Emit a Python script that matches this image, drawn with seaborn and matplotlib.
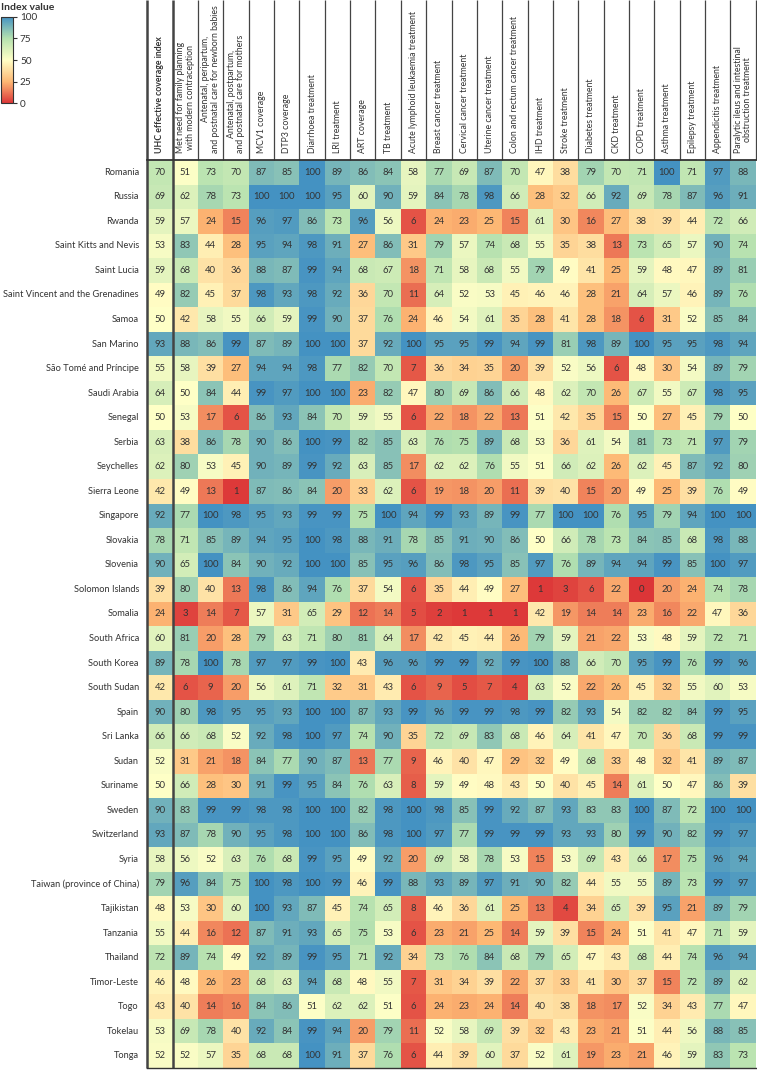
import numpy as np
import pandas as pd
import matplotlib
matplotlib.use("Agg")
import matplotlib.pyplot as plt
import seaborn as sns
from matplotlib.colors import LinearSegmentedColormap, Normalize, to_rgb
from matplotlib.cm import ScalarMappable

plt.rcParams['font.family'] = ['Lato', 'DejaVu Sans']

countries = [
    "Romania", "Russia", "Rwanda", "Saint Kitts and Nevis", "Saint Lucia",
    "Saint Vincent and the Grenadines", "Samoa", "San Marino",
    "São Tomé and Príncipe", "Saudi Arabia", "Senegal", "Serbia", "Seychelles",
    "Sierra Leone", "Singapore", "Slovakia", "Slovenia", "Solomon Islands",
    "Somalia", "South Africa", "South Korea", "South Sudan", "Spain",
    "Sri Lanka", "Sudan", "Suriname", "Sweden", "Switzerland", "Syria",
    "Taiwan (province of China)", "Tajikistan", "Tanzania", "Thailand",
    "Timor-Leste", "Togo", "Tokelau", "Tonga",
]

indicators = [
    "UHC effective coverage index",
    "Met need for family planning\nwith modern contraception",
    "Antenatal, peripartum,\nand postnatal care for newborn babies",
    "Antenatal, postpartum,\nand postnatal care for mothers",
    "MCV1 coverage",
    "DTP3 coverage",
    "Diarrhoea treatment",
    "LRI treatment",
    "ART coverage",
    "TB treatment",
    "Acute lymphoid leukaemia treatment",
    "Breast cancer treatment",
    "Cervical cancer treatment",
    "Uterine cancer treatment",
    "Colon and rectum cancer treatment",
    "IHD treatment",
    "Stroke treatment",
    "Diabetes treatment",
    "CKD treatment",
    "COPD treatment",
    "Asthma treatment",
    "Epilepsy treatment",
    "Appendicitis treatment",
    "Paralytic ileus and intestinal\nobstruction treatment",
]

values = [
    [70, 51, 73, 70, 87, 85, 100, 89, 86, 84, 58, 77, 69, 87, 70, 47, 38, 79, 70, 71, 100, 71, 97, 88],
    [69, 62, 78, 73, 100, 100, 100, 95, 60, 90, 59, 84, 78, 98, 66, 28, 32, 66, 92, 69, 78, 87, 96, 91],
    [59, 57, 24, 15, 96, 97, 86, 73, 96, 56, 6, 24, 23, 25, 15, 61, 30, 16, 27, 38, 39, 44, 72, 66],
    [53, 83, 44, 28, 95, 94, 98, 91, 27, 86, 31, 79, 57, 74, 68, 55, 35, 38, 13, 73, 65, 57, 90, 74],
    [59, 68, 40, 36, 88, 87, 99, 94, 68, 67, 18, 71, 58, 68, 55, 79, 49, 41, 25, 59, 48, 47, 89, 81],
    [49, 82, 45, 37, 98, 93, 98, 92, 36, 70, 11, 64, 52, 53, 45, 46, 46, 28, 21, 64, 57, 46, 89, 76],
    [50, 42, 58, 55, 66, 59, 99, 90, 37, 76, 24, 46, 54, 61, 35, 28, 41, 28, 18, 6, 31, 52, 85, 84],
    [93, 88, 86, 99, 87, 89, 100, 100, 37, 92, 100, 95, 95, 99, 94, 99, 81, 98, 89, 100, 95, 95, 98, 94],
    [55, 58, 39, 27, 94, 94, 98, 77, 82, 70, 7, 36, 34, 35, 20, 39, 52, 56, 6, 48, 30, 54, 89, 79],
    [64, 50, 84, 44, 99, 97, 100, 100, 23, 82, 47, 80, 69, 86, 66, 48, 62, 70, 26, 67, 55, 67, 98, 95],
    [50, 53, 17, 6, 86, 93, 84, 70, 59, 55, 6, 22, 18, 22, 13, 51, 42, 35, 15, 50, 27, 45, 79, 50],
    [63, 38, 86, 78, 90, 86, 100, 99, 82, 85, 63, 76, 75, 89, 68, 53, 36, 61, 54, 81, 73, 71, 97, 79],
    [62, 80, 53, 45, 90, 89, 99, 92, 63, 85, 17, 62, 62, 76, 55, 51, 66, 62, 26, 62, 45, 87, 92, 80],
    [42, 49, 13, 1, 87, 86, 84, 20, 33, 62, 6, 19, 18, 20, 11, 39, 40, 15, 20, 49, 25, 39, 76, 49],
    [92, 77, 100, 98, 95, 93, 99, 99, 75, 100, 94, 99, 93, 89, 99, 77, 100, 100, 76, 95, 79, 94, 100, 100],
    [78, 71, 85, 89, 94, 95, 100, 98, 88, 91, 78, 85, 91, 90, 86, 50, 66, 78, 73, 84, 85, 68, 98, 88],
    [90, 65, 100, 84, 90, 92, 100, 100, 85, 95, 96, 86, 98, 95, 85, 97, 76, 89, 94, 94, 99, 85, 100, 97],
    [39, 80, 40, 13, 98, 86, 94, 76, 37, 54, 6, 35, 44, 49, 27, 1, 3, 6, 22, 0, 20, 24, 74, 78],
    [24, 3, 14, 7, 57, 31, 65, 29, 12, 14, 5, 2, 1, 1, 1, 42, 19, 14, 14, 23, 16, 22, 47, 36],
    [60, 81, 20, 28, 79, 63, 71, 80, 81, 64, 17, 42, 45, 44, 26, 79, 59, 21, 22, 53, 48, 59, 72, 71],
    [89, 78, 100, 78, 97, 97, 99, 100, 43, 96, 96, 99, 99, 92, 99, 100, 88, 66, 70, 95, 99, 76, 99, 96],
    [42, 6, 9, 20, 56, 61, 71, 32, 31, 43, 6, 9, 5, 7, 4, 63, 52, 22, 26, 45, 32, 55, 60, 53],
    [90, 80, 98, 95, 95, 93, 100, 100, 87, 93, 99, 96, 99, 99, 98, 99, 82, 93, 54, 82, 82, 84, 99, 95],
    [66, 66, 68, 52, 92, 98, 100, 97, 74, 90, 35, 72, 69, 83, 68, 46, 64, 41, 47, 70, 36, 68, 99, 99],
    [52, 31, 21, 18, 84, 77, 90, 87, 13, 77, 9, 46, 40, 47, 29, 32, 49, 68, 33, 48, 32, 41, 89, 87],
    [50, 66, 28, 30, 91, 99, 95, 84, 76, 63, 8, 59, 49, 48, 43, 50, 40, 45, 14, 61, 50, 47, 86, 39],
    [90, 83, 99, 99, 98, 98, 100, 100, 82, 98, 100, 98, 85, 99, 92, 87, 93, 83, 83, 100, 87, 72, 100, 100],
    [93, 87, 78, 90, 95, 98, 100, 100, 86, 98, 100, 97, 77, 99, 99, 99, 93, 93, 80, 99, 90, 82, 99, 97],
    [58, 56, 52, 63, 76, 68, 99, 95, 49, 92, 20, 69, 58, 78, 53, 15, 53, 69, 43, 66, 17, 75, 96, 94],
    [79, 96, 84, 75, 100, 98, 100, 99, 46, 99, 88, 93, 89, 97, 91, 90, 82, 44, 55, 55, 89, 73, 99, 97],
    [48, 53, 30, 60, 100, 93, 87, 45, 74, 65, 8, 46, 36, 61, 25, 13, 4, 34, 65, 39, 95, 21, 89, 79],
    [55, 44, 16, 12, 87, 91, 93, 65, 75, 53, 6, 23, 21, 25, 14, 59, 39, 15, 24, 51, 41, 47, 71, 59],
    [72, 89, 74, 49, 92, 89, 99, 95, 71, 92, 34, 73, 76, 84, 68, 79, 65, 47, 43, 68, 44, 74, 96, 94],
    [46, 48, 26, 23, 68, 63, 94, 68, 48, 55, 7, 31, 34, 39, 22, 37, 33, 41, 30, 37, 15, 72, 89, 62],
    [43, 40, 14, 16, 84, 86, 51, 62, 62, 51, 6, 24, 23, 24, 14, 40, 38, 18, 17, 52, 34, 43, 77, 47],
    [53, 69, 78, 40, 92, 84, 99, 94, 20, 79, 11, 52, 58, 69, 39, 32, 43, 23, 21, 51, 44, 56, 88, 85],
    [52, 52, 57, 35, 68, 68, 100, 91, 37, 76, 6, 44, 39, 60, 37, 52, 61, 19, 23, 21, 46, 59, 83, 73],
]

df = pd.DataFrame(values, index=countries, columns=indicators)

# Spectral-like 5-stop palette, softened slightly toward white
base = ['#d7191c', '#fdae61', '#ffffbf', '#abdda4', '#2b83ba']
alpha = 0.88
soft = [tuple(alpha * c + (1 - alpha) * 1.0 for c in to_rgb(h)) for h in base]
cmap = LinearSegmentedColormap.from_list('idx', soft)

W, H = 757, 1070
fig = plt.figure(figsize=(W / 100, H / 100), dpi=100)
x0, x1 = 147.3, 755.7
y0, y1 = 160.0, 1068.0
ax = fig.add_axes([x0 / W, 1 - y1 / H, (x1 - x0) / W, (y1 - y0) / H])

txt = '#333333'
sns.heatmap(df, ax=ax, cmap=cmap, vmin=0, vmax=100, annot=True, fmt='d',
            annot_kws={'fontsize': 6.8, 'color': txt}, cbar=False,
            xticklabels=False, yticklabels=True, linewidths=0)
ax.set_xlabel('')
ax.set_ylabel('')
ax.tick_params(axis='y', length=0, pad=6, labelsize=6.7, labelcolor=txt)
for t in ax.get_yticklabels():
    t.set_rotation(0)

nrows, ncols = df.shape
row_px = (y1 - y0) / nrows
top = -y0 / row_px  # figure top in data units

for i, lab in enumerate(indicators):
    ax.text(i + 0.5, -0.3, lab, rotation=90, ha='center', va='bottom',
            fontsize=6.3, color=txt, linespacing=1.1,
            fontweight='bold' if i == 0 else 'normal', clip_on=False)

for x in range(ncols + 1):
    lw = 1.8 if x in (0, 1) else 0.9
    ax.plot([x, x], [top, 0], color='#444444', lw=lw, clip_on=False,
            solid_capstyle='butt')
for x in (0, 1):
    ax.plot([x, x], [0, nrows], color='#444444', lw=1.8, clip_on=False,
            solid_capstyle='butt')
ax.plot([0, ncols], [0, 0], color='#333333', lw=1.3, clip_on=False)
ax.plot([0, ncols], [nrows, nrows], color='#333333', lw=1.0, clip_on=False)

# Colour legend
cax = fig.add_axes([0.5 / W, 1 - 103.5 / H, 12.5 / W, 87 / H])
sm = ScalarMappable(norm=Normalize(0, 100), cmap=cmap)
cb = fig.colorbar(sm, cax=cax, ticks=[0, 25, 50, 75, 100])
cb.outline.set_edgecolor('#333333')
cb.outline.set_linewidth(0.8)
cax.tick_params(labelsize=7.2, length=3, width=0.8, color='#333333',
                labelcolor=txt, pad=2)
fig.text(1 / W, 1 - 8 / H, 'Index value', fontsize=7.5, fontweight='bold',
         va='center', ha='left', color=txt)

fig.savefig('out.png', dpi=100)
